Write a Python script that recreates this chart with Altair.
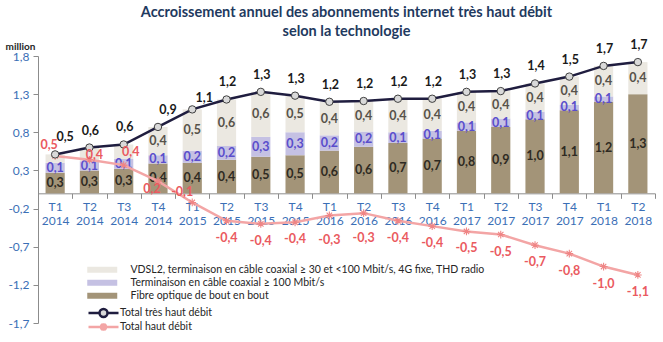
import altair as alt
import pandas as pd

categories = ["T1 2014", "T2 2014", "T3 2014", "T4 2014",
              "T1 2015", "T2 2015", "T3 2015", "T4 2015",
              "T1 2016", "T2 2016", "T3 2016", "T4 2016",
              "T1 2017", "T2 2017", "T3 2017", "T4 2017",
              "T1 2018", "T2 2018"]
fibre = [0.27, 0.30, 0.32, 0.39, 0.40, 0.44, 0.48, 0.50, 0.56, 0.61, 0.66, 0.72,
         0.82, 0.87, 0.97, 1.09, 1.20, 1.30]
coax = [0.13, 0.12, 0.13, 0.11, 0.16, 0.18, 0.26, 0.30, 0.20, 0.20, 0.14, 0.10,
        0.11, 0.11, 0.10, 0.07, 0.07, 0.00]
vdsl = [0.11, 0.18, 0.19, 0.37, 0.54, 0.61, 0.59, 0.48, 0.44, 0.40, 0.44, 0.42,
        0.40, 0.36, 0.37, 0.37, 0.40, 0.42]
total_thd = [0.51, 0.60, 0.64, 0.87, 1.10, 1.23, 1.33, 1.28, 1.20, 1.21, 1.24, 1.24,
             1.33, 1.34, 1.44, 1.53, 1.67, 1.72]
total_hd = [0.49, 0.44, 0.37, 0.16, -0.12, -0.36, -0.40, -0.38, -0.29, -0.26, -0.36, -0.43,
            -0.50, -0.54, -0.68, -0.79, -0.96, -1.07]
y_ticks = [-1.7, -1.2, -0.7, -0.2, 0.3, 0.8, 1.3, 1.8]

S_VDSL = "VDSL2, terminaison en câble coaxial ≥ 30 et <100 Mbit/s, 4G fixe, THD radio"
S_COAX = "Terminaison en câble coaxial ≥ 100 Mbit/s"
S_FIBRE = "Fibre optique de bout en bout"
S_THD = "Total très haut débit"
S_HD = "Total haut débit"

C_VDSL, C_COAX, C_FIBRE, C_THD, C_HD = "#ebe8e1", "#c5c1e3", "#a39478", "#1f1d3f", "#f3a5a5"

bars_df = pd.DataFrame(
    [{"cat": c, "series": s, "value": v}
     for s, vals in [(S_FIBRE, fibre), (S_COAX, coax), (S_VDSL, vdsl)]
     for c, v in zip(categories, vals)]
)
thd_df = pd.DataFrame({"cat": categories, "series": S_THD, "value": total_thd})
hd_df = pd.DataFrame({"cat": categories, "series": S_HD, "value": total_hd})

W, H = 617, 267
FONT = "Lato"
FMT = "replace(replace(format(datum.value, '.1f'), '.', ','), '\u2212', '-')"

yscale = alt.Scale(domain=[-1.7, 1.8], nice=False, zero=False)
y_axis = alt.Axis(values=y_ticks, labelExpr=FMT, title="million", titleAngle=0,
                  titleX=-33, titleY=-5, titleAlign="left", titleBaseline="bottom",
                  titleFont=FONT, titleFontSize=10, titleFontWeight="bold",
                  titleColor="#262626", labelFont=FONT, labelFontSize=12,
                  labelColor="#3b6fb6", labelPadding=4, tickSize=5,
                  tickColor="#8c8c8c", domainColor="#8c8c8c", grid=False)
x_axis = alt.Axis(title=None, labelExpr="split(datum.label, ' ')", labelAngle=0,
                  labelFont=FONT, labelFontSize=12, labelColor="#3b6fb6",
                  labelLineHeight=14, labelPadding=3,
                  tickBand="extent", tickSize=5, tickColor="#8c8c8c",
                  domainColor="#8c8c8c", offset=-(H * 1.7 / 3.5), grid=False)
xscale = alt.Scale(paddingInner=0, paddingOuter=0)
X = alt.X("cat:N", sort=categories, scale=xscale, axis=x_axis)

def Y(field, **kw):
    return alt.Y(field, scale=yscale, axis=y_axis, **kw)

# legend symbol paths (scaled by sqrt(symbolSize)/2 = 5 px per unit)
path_rect = "M-3,-0.6H3V0.6H-3Z"
path_thd = ("M-3,0H-0.8M0.8,0H3M0.8,0A0.8,0.8 0 1,1 -0.8,0"
            "A0.8,0.8 0 1,1 0.8,0Z")
path_hd = "M-3,0H3M-0.55,-0.55L0.55,0.55M-0.55,0.55L0.55,-0.55M0,-0.75V0.75"

LEG_Y = 208.5
common_legend = dict(title=None, orient="none", direction="vertical", symbolSize=100,
                     labelFont=FONT, labelFontSize=10.5, labelColor="#262626",
                     labelLimit=800, rowPadding=2, legendX=59)

legend_bars = alt.Legend(legendY=LEG_Y, symbolType=path_rect, symbolStrokeWidth=0,
                         labelOffset=23, **common_legend)
legend_thd = alt.Legend(legendY=LEG_Y + 42, symbolType=path_thd, symbolFillColor="#d9d9d9",
                        symbolStrokeWidth=2.5, symbolOpacity=1, labelOffset=10, **common_legend)
legend_hd = alt.Legend(legendY=LEG_Y + 56, symbolType=path_hd, symbolFillColor="transparent",
                       symbolStrokeWidth=2.5, symbolOpacity=1, labelOffset=10, **common_legend)

fill = alt.Fill("series:N", scale=alt.Scale(domain=[S_VDSL, S_COAX, S_FIBRE],
                range=[C_VDSL, C_COAX, C_FIBRE]), legend=legend_bars)
stroke_thd = alt.Stroke("series:N", scale=alt.Scale(domain=[S_THD], range=[C_THD]),
                        legend=legend_thd)
color_hd = alt.Color("series:N", scale=alt.Scale(domain=[S_HD], range=[C_HD]),
                     legend=legend_hd)

stack_expr = f"indexof(['{S_FIBRE}', '{S_COAX}', '{S_VDSL}'], datum.series)"

bars = alt.Chart(bars_df).transform_calculate(stack_idx=stack_expr).mark_bar(
    width=alt.RelativeBandSize(0.56)
).encode(
    x=X,
    y=Y("value:Q", stack="zero"),
    fill=fill,
    order=alt.Order("stack_idx:Q"),
)

def bar_labels(series, col, min_val):
    return alt.Chart(bars_df).transform_calculate(stack_idx=stack_expr).transform_stack(
        stack="value", groupby=["cat"], sort=[alt.SortField("stack_idx")], as_=["y0", "y1"]
    ).transform_calculate(mid="(datum.y0 + datum.y1) / 2", label=FMT).transform_filter(
        f"datum.series === '{series}' && datum.value >= {min_val}"
    ).mark_text(font=FONT, fontSize=12.5, fontWeight="bold", color=col).encode(
        x=X, y=Y("mid:Q"), text="label:N")

line_thd = alt.Chart(thd_df).mark_line(strokeWidth=2.5).encode(
    x=X, y=Y("value:Q"), stroke=stroke_thd)
line_hd = alt.Chart(hd_df).mark_line(strokeWidth=2.5).encode(
    x=X, y=Y("value:Q"), color=color_hd)

pts_thd = alt.Chart(thd_df).mark_point(
    shape="circle", size=55, filled=True, fill="#d9d9d9", stroke="#404040", strokeWidth=1, opacity=1
).encode(x=X, y=Y("value:Q"))

pts_hd = alt.Chart(hd_df).mark_point(
    shape="M-1,0L1,0M-0.7,-0.7L0.7,0.7M-0.7,0.7L0.7,-0.7M0,-1L0,1",
    size=60, filled=False, stroke="#ef8585", strokeWidth=1.1, opacity=1
).encode(x=X, y=Y("value:Q"))

def point_labels(df, groups, col):
    out = []
    for (dx, dy), cats in groups:
        out.append(alt.Chart(df).transform_filter(
            alt.FieldOneOfPredicate(field="cat", oneOf=cats)).transform_calculate(label=FMT).mark_text(
            dx=dx, dy=dy, font=FONT, fontSize=12.5, fontWeight="bold", color=col).encode(
            x=X, y=Y("value:Q"), text="label:N"))
    return out

thd_special = ["T1 2014", "T4 2014", "T1 2015"]
thd_groups = [
    ((10, -17), ["T1 2014", "T4 2014"]),
    ((12, -11), ["T1 2015"]),
    ((1, -17), [c for c in categories if c not in thd_special]),
]
hd_special = ["T1 2014", "T2 2014", "T3 2014", "T4 2014", "T1 2015", "T1 2016", "T2 2016"]
hd_groups = [
    ((-6, -11), ["T1 2014"]),
    ((5, -5), ["T2 2014"]),
    ((7, -13), ["T3 2014"]),
    ((-6, 8), ["T4 2014"]),
    ((-10, -10), ["T1 2015"]),
    ((0, 25), ["T1 2016", "T2 2016"]),
    ((0, 17), [c for c in categories if c not in hd_special]),
]

chart = alt.layer(
    bars,
    bar_labels(S_FIBRE, "#2e2a22", 0.05),
    bar_labels(S_COAX, "#5a4dcc", 0.05),
    bar_labels(S_VDSL, "#57524a", 0.3),
    line_hd, pts_hd, line_thd, pts_thd,
    *point_labels(thd_df, thd_groups, "#1a1a1a"),
    *point_labels(hd_df, hd_groups, "#ea5a60"),
).properties(
    width=W, height=H,
    title=alt.TitleParams(["Accroissement annuel des abonnements internet très haut débit",
                           "selon la technologie"], font=FONT, fontSize=14.5, fontWeight="bold",
                          color="#1f3a60", anchor="middle", offset=0, lineHeight=19),
    autosize=alt.AutoSizeParams(type="none"),
    padding={"left": 38, "top": 56, "right": 8, "bottom": 19},
).resolve_scale(color="independent", stroke="independent", fill="independent"
).configure_view(stroke=None).configure_axis(grid=False)

chart.save("out.html", embed_options={"renderer": "svg", "actions": False})
